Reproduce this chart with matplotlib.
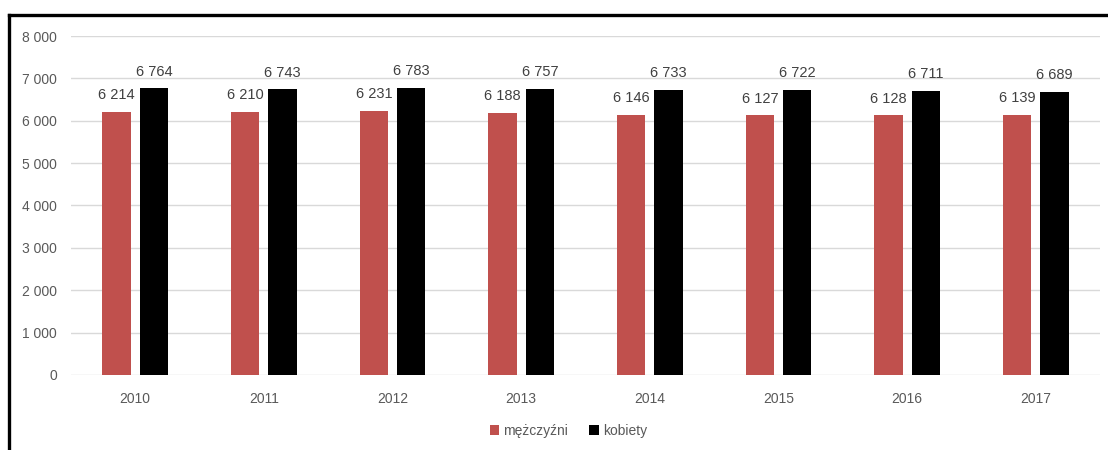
import numpy as np
import matplotlib.pyplot as plt
from matplotlib.lines import Line2D

plt.rcParams['font.family'] = ['Liberation Sans', 'DejaVu Sans']

years = ['2010', '2011', '2012', '2013', '2014', '2015', '2016', '2017']
men = [6214, 6210, 6231, 6188, 6146, 6127, 6128, 6139]
women = [6764, 6743, 6783, 6757, 6733, 6722, 6711, 6689]

def fmt(v):
    return f'{v:,}'.replace(',', ' ')

text_col = '#595959'
fig = plt.figure(figsize=(11.08, 4.5), dpi=100)
ax = fig.add_axes([0.064, 0.1667, 0.929, 0.7533])

x = np.arange(len(years))
w = 0.22
b1 = ax.bar(x - 0.145, men, w, color='#C0504D', label='mężczyźni', zorder=3)
b2 = ax.bar(x + 0.145, women, w, color='black', label='kobiety', zorder=3)

for bars, vals in ((b1, men), (b2, women)):
    for r, v in zip(bars, vals):
        ax.annotate(fmt(v), (r.get_x() + r.get_width() / 2, v), xytext=(0, 7),
                    textcoords='offset points', ha='center', va='bottom',
                    fontsize=10.5, color='#404040')

ax.set_xlim(-0.5, len(years) - 0.5)
ax.set_ylim(0, 8000)
ax.set_yticks(range(0, 8001, 1000))
ax.set_yticklabels([fmt(v) for v in range(0, 8001, 1000)])
ax.set_xticks(x)
ax.set_xticklabels(years)
ax.tick_params(axis='both', length=0, labelsize=10, colors=text_col)
ax.tick_params(axis='x', pad=12)
ax.tick_params(axis='y', pad=10)
ax.grid(axis='y', color='#D9D9D9', linewidth=1, zorder=0)
for s in ax.spines.values():
    s.set_visible(False)

fig.legend(loc='center', bbox_to_anchor=(0.513, 0.042), ncol=2, frameon=False,
           fontsize=10, handlelength=0.7, handleheight=0.7, handletextpad=0.3,
           columnspacing=1.5, labelcolor=text_col)

# screenshot frame on the left and top
yt = 1 - 15 / 450
xl = 9 / 1108
fig.add_artist(Line2D([xl, xl], [0, yt], transform=fig.transFigure, color='black', linewidth=2.4))
fig.add_artist(Line2D([xl, 1], [yt, yt], transform=fig.transFigure, color='black', linewidth=2.4))

fig.savefig('out.png', dpi=100)
